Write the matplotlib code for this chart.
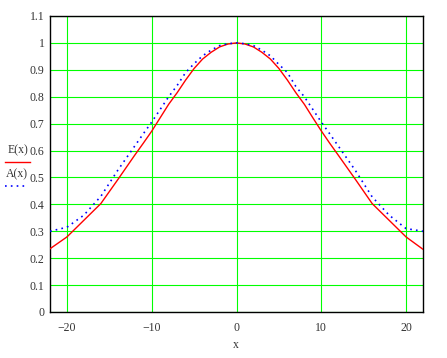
import numpy as np
import matplotlib
matplotlib.use("Agg")
import matplotlib.pyplot as plt

# values
x_vals = [-22, -20, -18, -16, -14, -12, -11, -10, -9, -8, -7, -6, -5, -4, -3, -2, -1, 0,
          1, 2, 3, 4, 5, 6, 7, 8, 9, 10, 11, 12, 14, 16, 18, 20, 22]
E_vals = [0.235, 0.279, 0.341, 0.403, 0.492, 0.583, 0.627, 0.672, 0.722, 0.772, 0.815, 0.862,
          0.905, 0.940, 0.965, 0.985, 0.996, 1.0,
          0.996, 0.985, 0.965, 0.940, 0.905, 0.862, 0.815, 0.772, 0.722, 0.673, 0.627, 0.583,
          0.494, 0.403, 0.341, 0.279, 0.233]
A_vals = [0.300, 0.315, 0.360, 0.430, 0.527, 0.617, 0.662, 0.706, 0.753, 0.800, 0.842, 0.890,
          0.923, 0.952, 0.973, 0.990, 0.997, 1.0,
          0.997, 0.990, 0.973, 0.952, 0.920, 0.890, 0.838, 0.800, 0.753, 0.706, 0.662, 0.617,
          0.527, 0.428, 0.360, 0.310, 0.300]

x_ticks = [-20, -10, 0, 10, 20]
x_tick_labels = ["\u221220", "\u221210", "0", "10", "20"]
y_ticks = [0, 0.1, 0.2, 0.3, 0.4, 0.5, 0.6, 0.7, 0.8, 0.9, 1, 1.1]
y_tick_labels = ["0", "0.1", "0.2", "0.3", "0.4", "0.5", "0.6", "0.7", "0.8", "0.9", "1", "1.1"]

plt.rcParams['font.family'] = ['Liberation Serif', 'DejaVu Serif']

fig = plt.figure(figsize=(4.47, 3.58), dpi=100)
ax = fig.add_axes([50/447, 46/358, 373/447, 296/358])

ax.plot(x_vals, E_vals, color="red", lw=1.0, zorder=3)
ax.plot(x_vals, A_vals, color="blue", lw=1.2, linestyle=(0, (1, 2.5)), zorder=3)

ax.set_xlim(-22, 22)
ax.set_ylim(0, 1.1)
ax.set_xticks(x_ticks)
ax.set_xticklabels(x_tick_labels)
ax.set_yticks(y_ticks)
ax.set_yticklabels(y_tick_labels)
ax.tick_params(length=0, labelsize=8.5, colors="#333333")
ax.tick_params(axis="x", pad=7)
ax.tick_params(axis="y", pad=4)
ax.grid(True, color="#00ff00", lw=0.8)
ax.set_axisbelow(True)
for s in ax.spines.values():
    s.set_color("black")
    s.set_linewidth(1.0)

fig.text(236/447, 1 - 345/358, "x", ha="center", va="center", fontsize=8.5, color="#333333")

# legend on the left
fig.text(18/447, 1 - 150/358, "E(x)", ha="center", va="center", fontsize=8.5, color="#333333")
fig.add_artist(plt.Line2D([5/447, 30/447], [1 - 161.5/358, 1 - 161.5/358], color="red", lw=1.0))
fig.text(17/447, 1 - 174/358, "A(x)", ha="center", va="center", fontsize=8.5, color="#333333")
fig.add_artist(plt.Line2D([5/447, 26/447], [1 - 186/358, 1 - 186/358], color="blue", lw=1.2,
                          linestyle=(0, (1, 2.5))))

fig.savefig("out.png", dpi=100)
